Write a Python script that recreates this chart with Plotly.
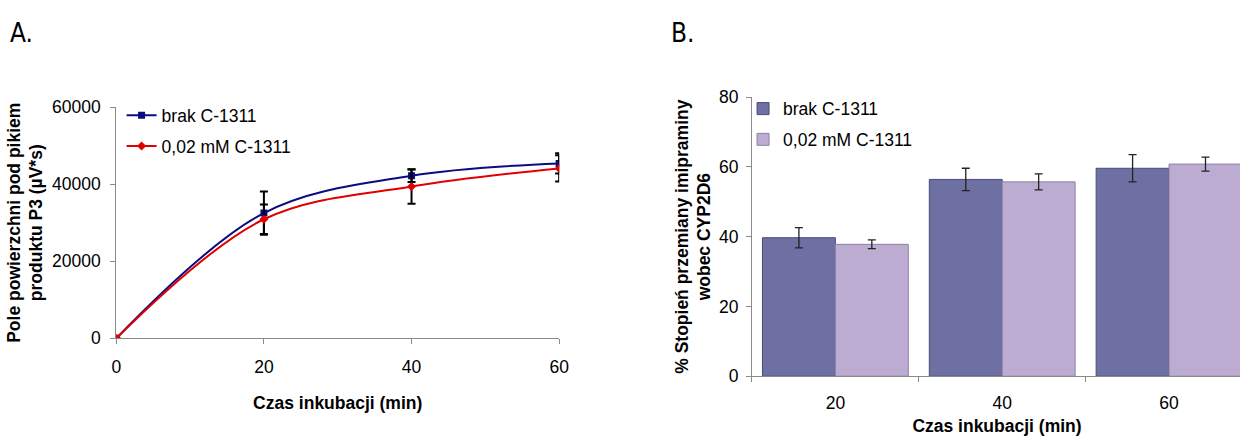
import plotly.graph_objects as go

# ---------------- data ----------------
time_min = [0, 20, 40, 60]
brak_area = [0, 32500, 42200, 45400]
brak_area_err = [0, 5600, 1600, 2600]
c1311_area = [0, 30900, 39400, 44100]
c1311_area_err = [0, 3800, 4500, 3400]

bar_categories = ["20", "40", "60"]
brak_pct = [39.7, 56.4, 59.6]
brak_pct_err = [2.9, 3.2, 3.9]
c1311_pct = [37.8, 55.7, 60.8]
c1311_pct_err = [1.25, 2.3, 2.0]

series_names = ["brak C-1311", "0,02 mM C-1311"]
y_ticks_a = [0, 20000, 40000, 60000]
y_ticks_b = [0, 20, 40, 60, 80]

FONT = "Liberation Sans, Arial, sans-serif"
W, H = 1252, 436
AX = "#8a8a8a"
FS = 17.5

# screen -> page coordinate compensation (measured from earlier renders)
AXS, BXS = 0.989, 5.3
AYS, BYS = 0.952, 9.1

def sx(s):
    return ((s - BXS) / AXS) / W

def sy(s):
    return 1 - ((s - BYS) / AYS) / H

fig = go.Figure()

# ---------------- Panel A ----------------
fig.add_trace(go.Scatter(
    x=time_min, y=brak_area, name=series_names[0], mode="lines+markers",
    line=dict(color="#0c0c80", width=2, shape="spline", smoothing=1.0),
    marker=dict(symbol="square", size=7, color="#0c0c80"),
    error_y=dict(type="data", array=brak_area_err, color="black", thickness=2, width=4),
    xaxis="x", yaxis="y", legend="legend", legendgroup="a1",
))
fig.add_trace(go.Scatter(
    x=time_min, y=c1311_area, name=series_names[1], mode="lines+markers",
    line=dict(color="#e00000", width=2, shape="spline", smoothing=1.0),
    marker=dict(symbol="diamond", size=7, color="#e00000"),
    error_y=dict(type="data", array=c1311_area_err, color="black", thickness=2, width=4),
    xaxis="x", yaxis="y", legend="legend", legendgroup="a2",
))

# ---------------- Panel B ----------------
fig.add_trace(go.Bar(
    x=bar_categories, y=brak_pct, name=series_names[0],
    marker=dict(color="#6e70a4", line=dict(color="#4a4b78", width=1)),
    error_y=dict(type="data", array=brak_pct_err, color="#222222", thickness=1.3, width=4),
    xaxis="x2", yaxis="y2", legend="legend2", legendgroup="b1",
))
fig.add_trace(go.Bar(
    x=bar_categories, y=c1311_pct, name=series_names[1],
    marker=dict(color="#bcacd2", line=dict(color="#8f80a6", width=1)),
    error_y=dict(type="data", array=c1311_pct_err, color="#222222", thickness=1.3, width=4),
    xaxis="x2", yaxis="y2", legend="legend2", legendgroup="b2",
))

axis_common = dict(
    showline=True, linecolor=AX, linewidth=1, ticks="outside", ticklen=5,
    tickcolor=AX, showgrid=False, zeroline=False,
    tickfont=dict(family=FONT, size=FS, color="black"),
)

b_left = 753.0
cat_w = 167.0
b_right_screen = AXS * W + BXS
b_range_end = -0.5 + (b_right_screen - b_left) / cat_w

fig.update_layout(
    width=W, height=H, margin=dict(l=0, r=0, t=0, b=0),
    paper_bgcolor="white", plot_bgcolor="white",
    font=dict(family=FONT, size=FS, color="black"),
    barmode="group", bargap=0.126, bargroupgap=0.0,
    xaxis=dict(
        domain=[sx(116.7), sx(560)], range=[0, 60], tickvals=time_min,
        anchor="y", ticklabelstandoff=8,
        title=dict(text="<b>Czas inkubacji (min)</b>", font=dict(size=FS), standoff=20),
        **axis_common,
    ),
    yaxis=dict(
        domain=[sy(336.7), sy(106)], range=[0, 60000], tickvals=y_ticks_a,
        tickformat="d", anchor="x", ticklabelstandoff=6,
        title=dict(text="<b>Pole powierzchni pod pikiem<br>produktu P3 (µV*s)</b>",
                   font=dict(size=FS), standoff=4),
        **axis_common,
    ),
    xaxis2=dict(
        domain=[sx(b_left), 1.0], type="category", range=[-0.5, b_range_end],
        tickson="boundaries", anchor="y2", ticklabelstandoff=11,
        title=dict(text="<b>Czas inkubacji (min)</b>", font=dict(size=FS), standoff=10),
        **axis_common,
    ),
    yaxis2=dict(
        domain=[sy(374.5), sy(96)], range=[0, 80], tickvals=y_ticks_b, anchor="x2",
        ticklabelstandoff=4,
        title=dict(text="<b>% Stopień przemiany imipraminy<br>wobec CYP2D6</b>",
                   font=dict(size=FS), standoff=3),
        **axis_common,
    ),
    legend=dict(
        x=118 / W, y=1 - 91.6 / H, xanchor="left", yanchor="top",
        bgcolor="rgba(0,0,0,0)", font=dict(family=FONT, size=FS),
        tracegroupgap=5, traceorder="grouped",
    ),
    legend2=dict(
        x=747 / W, y=1 - 84.6 / H, xanchor="left", yanchor="top",
        bgcolor="rgba(0,0,0,0)", font=dict(family=FONT, size=FS),
        tracegroupgap=5, traceorder="grouped", itemwidth=30,
    ),
    annotations=[
        dict(text="A.", x=3 / W, y=1 - 24 / H, xref="paper", yref="paper",
             xanchor="left", yanchor="middle", showarrow=False,
             font=dict(family="Liberation Sans Narrow, DejaVu Sans Condensed, Arial", size=26)),
        dict(text="B.", x=672 / W, y=1 - 24 / H, xref="paper", yref="paper",
             xanchor="left", yanchor="middle", showarrow=False,
             font=dict(family="Liberation Sans Narrow, DejaVu Sans Condensed, Arial", size=26)),
    ],
)

fig.write_html("out.html", config={"displayModeBar": False},
               post_script="document.body.style.margin='0px';")
